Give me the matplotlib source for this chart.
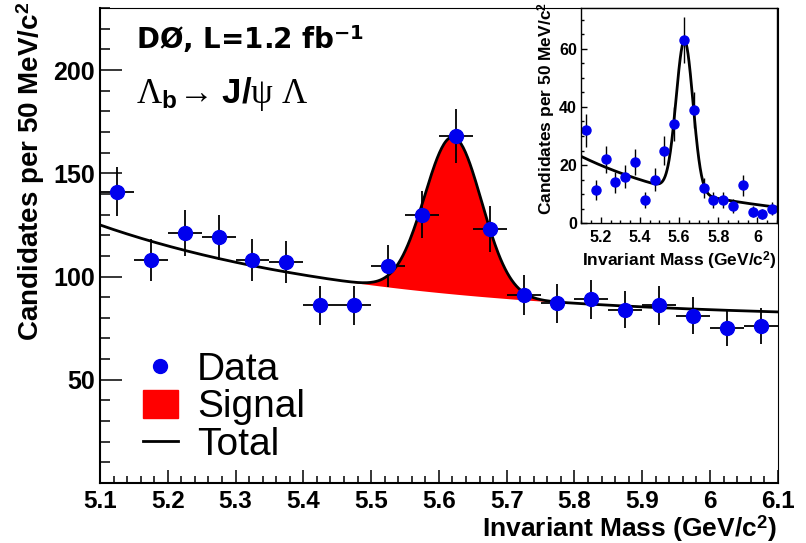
import numpy as np
import matplotlib
matplotlib.use("Agg")
import matplotlib.pyplot as plt
from matplotlib.ticker import MultipleLocator, FixedLocator
from matplotlib.lines import Line2D
from matplotlib.patches import Patch

plt.rcParams['font.family'] = ['Liberation Sans', 'DejaVu Sans']
plt.rcParams['font.weight'] = 'bold'
plt.rcParams['axes.labelweight'] = 'bold'
plt.rcParams['mathtext.fontset'] = 'custom'
plt.rcParams['mathtext.rm'] = 'Liberation Serif:weight=normal'
plt.rcParams['mathtext.it'] = 'Liberation Serif:italic:weight=normal'
plt.rcParams['mathtext.bf'] = 'Liberation Sans:bold'
plt.rcParams['mathtext.sf'] = 'DejaVu Sans:bold'

# bin centres (50 MeV bins)
mass = [5.125, 5.175, 5.225, 5.275, 5.325, 5.375, 5.425, 5.475, 5.525, 5.575,
        5.625, 5.675, 5.725, 5.775, 5.825, 5.875, 5.925, 5.975, 6.025, 6.075]

# main plot: candidates per bin
counts = [141, 108, 121, 119, 108, 107, 86, 86, 105, 130,
          168, 123, 91, 87, 89, 84, 86, 81, 75, 76]

# inset: candidates per bin
inset_counts = [32, 11.5, 22, 14, 16, 21, 8, 15, 25, 34,
                63, 39, 12, 8, 8, 6, 13, 4, 3, 5]

# tick labels
main_ticks = [5.1, 5.2, 5.3, 5.4, 5.5, 5.6, 5.7, 5.8, 5.9, 6.0, 6.1]
main_tick_labels = ['5.1', '5.2', '5.3', '5.4', '5.5', '5.6', '5.7', '5.8', '5.9', '6', '6.1']
inset_ticks = [5.2, 5.4, 5.6, 5.8, 6.0]
inset_tick_labels = ['5.2', '5.4', '5.6', '5.8', '6']

# fit parameters
bkg_const, bkg_amp, bkg_tau = 79.1, 45.9, 0.40
sig_amp, sig_mean, sig_width = 76.0, 5.621, 0.042
in_bkg_amp, in_bkg_tau = 23.0, 0.70
in_sig_amp, in_sig_mean, in_sig_width = 52.0, 5.628, 0.043

mass = np.array(mass)
counts = np.array(counts)
inset_counts = np.array(inset_counts)

xf = np.linspace(5.1, 6.1, 600)
bkg = bkg_const + bkg_amp * np.exp(-(xf - 5.1) / bkg_tau)
sig = sig_amp * np.exp(-0.5 * ((xf - sig_mean) / sig_width) ** 2)
total = bkg + sig

fig = plt.figure(figsize=(8.06, 5.43), dpi=100)
ax = fig.add_axes([0.124, 0.1105, 0.841, 0.8745])

sel = (xf > 5.46) & (xf < 5.79)
ax.fill_between(xf[sel], bkg[sel], total[sel], color='#ff0000', lw=0)
ax.plot(xf, total, color='black', lw=2)
ax.errorbar(mass, counts, yerr=np.sqrt(counts), xerr=0.025, fmt='o',
            color='#0000ee', ms=10, ecolor='black', elinewidth=1.3, capsize=0)

ax.set_xlim(5.1, 6.1)
ax.set_ylim(0, 230)
ax.xaxis.set_major_locator(FixedLocator(main_ticks))
ax.set_xticklabels(main_tick_labels)
ax.xaxis.set_minor_locator(MultipleLocator(0.02))
ax.yaxis.set_major_locator(FixedLocator([50, 100, 150, 200]))
ax.yaxis.set_minor_locator(MultipleLocator(10))
ax.tick_params(axis='x', which='major', direction='in', length=9.5, width=1.1, labelsize=17.5, pad=5)
ax.tick_params(axis='x', which='minor', direction='in', length=5, width=1.1)
ax.tick_params(axis='y', which='major', direction='in', length=16, width=1.1, labelsize=18, pad=3.5)
ax.tick_params(axis='y', which='minor', direction='in', length=7, width=1.1)
for s in ['left', 'bottom']:
    ax.spines[s].set_linewidth(1.5)
for s in ['top', 'right']:
    ax.spines[s].set_linewidth(0.8)

ax.set_xlabel('Invariant Mass (GeV/c$^{\\mathbf{2}}$)', fontsize=19, loc='right')
ax.xaxis.set_label_coords(0.9985, -0.064)
ax.set_ylabel('Candidates per 50 MeV/c$^{\\mathbf{2}}$', fontsize=20, loc='top')
ax.yaxis.set_label_coords(-0.078, 1.013)

ax.text(0.053, 0.914, 'DØ, L=1.2 fb$^{\\mathsf{-1}}$', transform=ax.transAxes,
        fontsize=20, va='baseline', family='DejaVu Sans')
ax.text(0.053, 0.800, r'$\mathrm{\Lambda}_{\mathbf{b}}\!\mathrm{\rightarrow}\,\mathbf{J/}\mathrm{\psi}\ \mathrm{\Lambda}$',
        transform=ax.transAxes, fontsize=25, va='baseline')

handles = [Line2D([], [], ls='none', marker='o', color='#0000ee', ms=10),
           Patch(color='#ff0000'),
           Line2D([], [], color='black', lw=2)]
leg = ax.legend(handles, ['Data', 'Signal', 'Total'], loc='lower left',
                bbox_to_anchor=(0.063, 0.042), frameon=False, borderpad=0,
                borderaxespad=0, handlelength=0.9, handleheight=0.75,
                handletextpad=0.5, labelspacing=0.04,
                prop={'family': 'Liberation Sans', 'weight': 'normal', 'size': 28})

# inset
ix = fig.add_axes([0.721, 0.589, 0.243, 0.396])
ib = in_bkg_amp * np.exp(-(xf - 5.1) / in_bkg_tau)
isg = in_sig_amp * np.exp(-0.5 * ((xf - in_sig_mean) / in_sig_width) ** 2)
ix.plot(xf, ib + isg, color='black', lw=2)
ix.errorbar(mass, inset_counts, yerr=np.sqrt(inset_counts), fmt='o',
            color='#0000ee', ms=6.5, ecolor='black', elinewidth=1.0, capsize=0)
ix.set_xlim(5.1, 6.1)
ix.set_ylim(0, 74)
ix.xaxis.set_major_locator(FixedLocator(inset_ticks))
ix.set_xticklabels(inset_tick_labels)
ix.xaxis.set_minor_locator(MultipleLocator(0.05))
ix.yaxis.set_major_locator(MultipleLocator(20))
ix.yaxis.set_minor_locator(MultipleLocator(5))
ix.tick_params(which='major', direction='in', length=4, width=1, labelsize=11.5, pad=3)
ix.tick_params(which='minor', direction='in', length=2, width=1)
ix.tick_params(axis='x', pad=5)
for s in ix.spines.values():
    s.set_linewidth(1.0)
ix.set_xlabel('Invariant Mass (GeV/c$^{\\mathbf{2}}$)', fontsize=12.5, loc='right')
ix.xaxis.set_label_coords(1.0, -0.125)
ix.set_ylabel('Candidates per 50 MeV/c$^{\\mathbf{2}}$', fontsize=12.5, loc='top')
ix.yaxis.set_label_coords(-0.118, 1.028)

fig.savefig('out.png', dpi=100)
